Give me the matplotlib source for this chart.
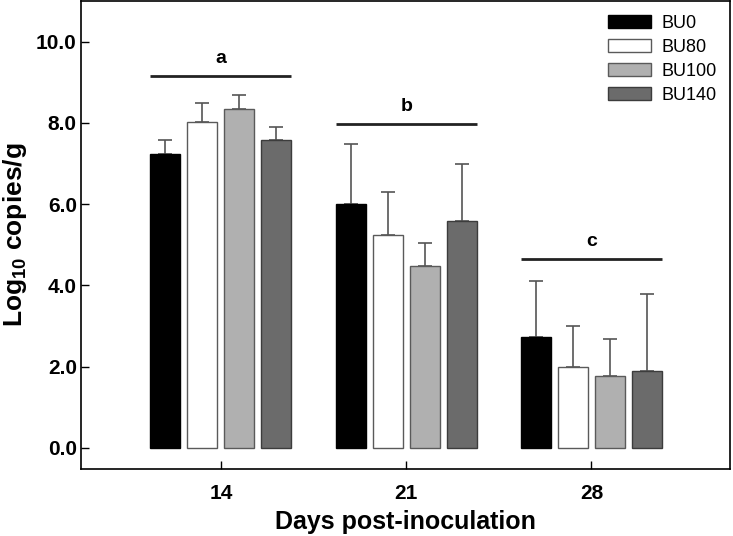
import matplotlib
matplotlib.use("Agg")
import matplotlib.pyplot as plt
import numpy as np

plt.rcParams['font.family'] = ['Liberation Sans', 'DejaVu Sans']
plt.rcParams['mathtext.fontset'] = 'custom'
plt.rcParams['mathtext.rm'] = 'Liberation Sans:bold'
plt.rcParams['mathtext.it'] = 'Liberation Sans:bold'
plt.rcParams['mathtext.bf'] = 'Liberation Sans:bold'

days = ['14', '21', '28']
series = ['BU0', 'BU80', 'BU100', 'BU140']
means = {
    'BU0':   [7.24, 6.01, 2.74],
    'BU80':  [8.02, 5.25, 1.98],
    'BU100': [8.35, 4.48, 1.77],
    'BU140': [7.58, 5.58, 1.89],
}
errors = {
    'BU0':   [0.33, 1.46, 1.38],
    'BU80':  [0.47, 1.06, 1.02],
    'BU100': [0.33, 0.56, 0.90],
    'BU140': [0.33, 1.41, 1.91],
}
sig_letters = ['a', 'b', 'c']
sig_heights = [9.16, 7.98, 4.65]

fills = ['#000000', '#ffffff', '#b0b0b0', '#6b6b6b']
edges = ['#000000', '#5a5a5a', '#5a5a5a', '#3c3c3c']

fig = plt.figure(figsize=(7.33, 5.36), dpi=100)
ax = fig.add_axes([0.1105, 0.125, 0.886, 0.873])

x = np.arange(len(days))
width = 0.162
offsets = [-0.3, -0.1, 0.1, 0.3]
for s, off, fc, ec in zip(series, offsets, fills, edges):
    ax.bar(x + off, means[s], width, color=fc, edgecolor=ec, linewidth=1.0,
           label=s, zorder=2)
    ax.errorbar(x + off, means[s], yerr=[np.zeros(len(days)), errors[s]],
                fmt='none', ecolor='#555555', elinewidth=1.2, capsize=5,
                capthick=1.2, zorder=1)

for xi, letter, h in zip(x, sig_letters, sig_heights):
    ax.plot([xi - 0.38, xi + 0.38], [h, h], color='#222222', lw=2.0,
            solid_capstyle='butt')
    ax.text(xi, h + 0.22, letter, ha='center', va='bottom', fontsize=14,
            fontweight='bold')

ax.set_xlim(-0.755, 2.75)
ax.set_ylim(-0.52, 11.0)
ax.set_xticks(x)
ax.set_xticklabels(days)
ax.set_yticks([0, 2, 4, 6, 8, 10])
ax.set_yticklabels(['0.0', '2.0', '4.0', '6.0', '8.0', '10.0'])
ax.tick_params(direction='in', length=6, width=1.0, labelsize=15)
ax.tick_params(axis='y', pad=3)
ax.tick_params(axis='x', pad=11)
for lab in ax.get_xticklabels() + ax.get_yticklabels():
    lab.set_fontweight('bold')
for sp in ax.spines.values():
    sp.set_linewidth(1.2)

ax.set_xlabel('Days post-inoculation', fontsize=18, fontweight='bold',
              labelpad=5)
ax.set_ylabel('Log$_{10}$ copies/g', fontsize=19, fontweight='bold')
ax.yaxis.set_label_coords(-0.08, 0.50)

leg = ax.legend(loc='upper left', bbox_to_anchor=(608 / 733, 1 - 15 / 536),
                bbox_transform=fig.transFigure, frameon=False, fontsize=13,
                handlelength=2.4, handleheight=0.72, labelspacing=0.38,
                handletextpad=0.55, borderpad=0, borderaxespad=0)

fig.savefig('out.png', dpi=100)
